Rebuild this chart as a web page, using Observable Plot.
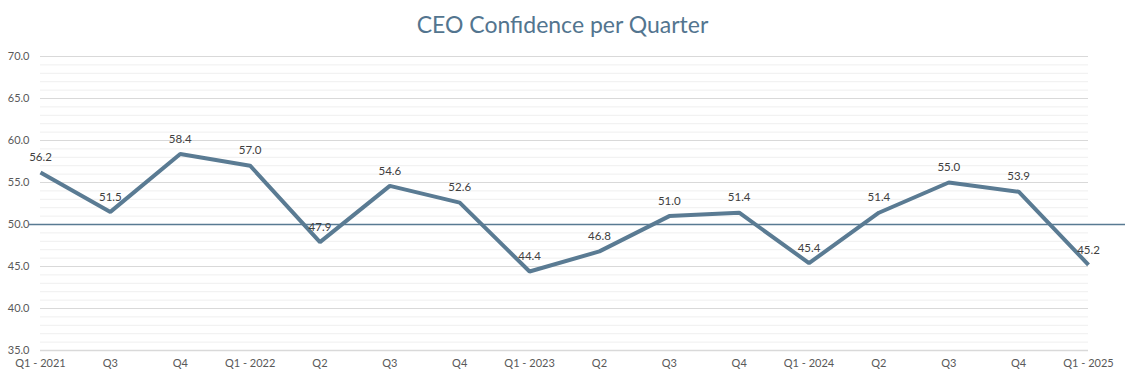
<!DOCTYPE html>
<html>
<head>
<meta charset="utf-8">
<script src="https://cdn.jsdelivr.net/npm/d3@7"></script>
<script src="https://cdn.jsdelivr.net/npm/@observablehq/plot@0.6"></script>
<style>
  html, body { margin: 0; padding: 0; background: #fff; }
  #title { height: 45px; line-height: 49px; text-align: center; font-family: Lato, "Open Sans", sans-serif; font-size: 23px; color: #53758f; width: 1125px; }
  #chart svg { display: block; }
</style>
</head>
<body>
<div id="title">CEO Confidence per Quarter</div>
<div id="chart"></div>
<script>
const quarterLabels = ["Q1 - 2021","Q3","Q4","Q1 - 2022","Q2","Q3","Q4","Q1 - 2023","Q2","Q3","Q4","Q1 - 2024","Q2","Q3","Q4","Q1 - 2025"];
const confidence = [56.2, 51.5, 58.4, 57.0, 47.9, 54.6, 52.6, 44.4, 46.8, 51.0, 51.4, 45.4, 51.4, 55.0, 53.9, 45.2];
const majorTicks = [35, 40, 45, 50, 55, 60, 65, 70];
const minorTicks = d3.range(35, 71).filter(v => v % 5 !== 0);
const threshold = [50];

const data = confidence.map((v, i) => ({i, v, label: quarterLabels[i]}));

const font = 'Lato, "Open Sans", sans-serif';
const plot = Plot.plot({
  width: 1125,
  height: 335,
  marginLeft: 40,
  marginRight: 37,
  marginTop: 11,
  marginBottom: 30,
  style: {fontFamily: font, fontSize: "11px", color: "#595959", background: "#fff"},
  x: {type: "linear", domain: [0, quarterLabels.length - 1], axis: null, label: null},
  y: {domain: [35, 70], axis: null, label: null},
  marks: [
    Plot.ruleY(minorTicks, {stroke: "#efefef", strokeWidth: 1}),
    Plot.ruleY(majorTicks, {stroke: "#d9d9d9", strokeWidth: 1}),
    Plot.ruleY([35], {stroke: "#d9d9d9", strokeWidth: 1.5}),
    Plot.axisY(majorTicks, {tickSize: 0, tickPadding: 11, tickFormat: d3.format(".1f"), fill: "#595959", fontSize: 11, label: null}),
    Plot.axisX(d3.range(quarterLabels.length), {tickSize: 0, tickPadding: 9, tickFormat: i => quarterLabels[i], fill: "#595959", fontSize: 11, label: null}),
    Plot.ruleY(threshold, {stroke: "#587a92", strokeWidth: 1.5, insetLeft: -11, insetRight: -37}),
    Plot.line(data, {x: "i", y: "v", stroke: "#5a7b93", strokeWidth: 4, strokeLinejoin: "miter", strokeLinecap: "butt"}),
    Plot.text(data, {x: "i", y: "v", text: d => d3.format(".1f")(d.v), dy: -15, fill: "#404040", fontSize: 11.5})
  ]
});
document.getElementById("chart").appendChild(plot);
</script>
</body>
</html>
